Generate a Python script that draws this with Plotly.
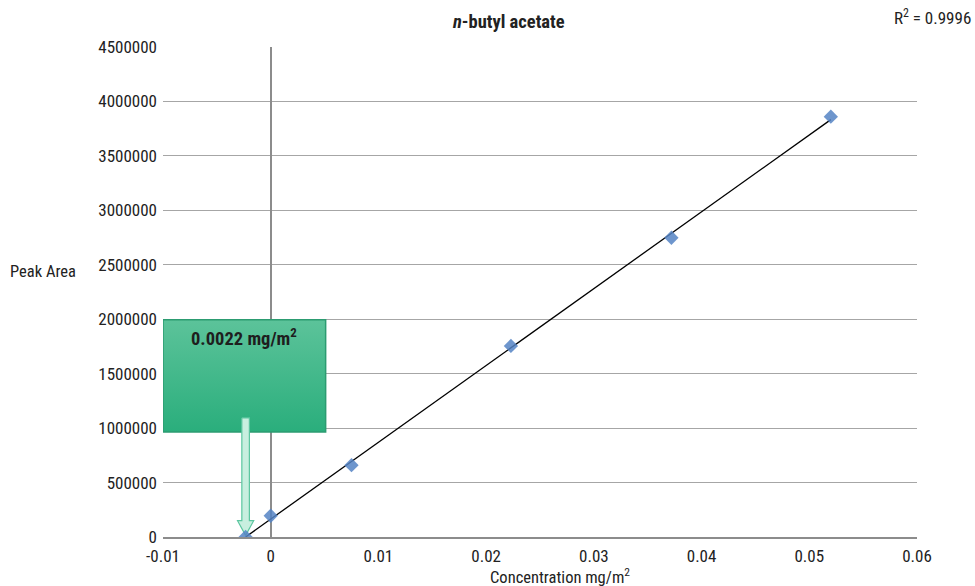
import numpy as np
import plotly.graph_objects as go

# ---- data ----
conc = [0.0, 0.0075, 0.0223, 0.0372, 0.0520]          # mg/m2
peak_area = [195000, 660000, 1755000, 2748000, 3860000]
lod_label = "0.0022 mg/m<sup>2</sup>"
r2_label = "R<sup>2</sup> = 0.9996"
x_tickvals = [-0.01, 0, 0.01, 0.02, 0.03, 0.04, 0.05, 0.06]
x_ticktext = ["-0.01", "0", "0.01", "0.02", "0.03", "0.04", "0.05", "0.06"]

FONT = "Liberation Sans Narrow, Roboto Condensed, Arial Narrow, Liberation Sans, sans-serif"

slope, intercept = np.polyfit(conc, peak_area, 1)
x_int = -intercept / slope
line_x = [x_int, max(conc)]
line_y = [slope * v + intercept for v in line_x]

fig = go.Figure()

# green callout box (gradient)
bx0, bx1, by0, by1 = -0.0100, 0.0051, 965000, 1995000
fig.add_trace(go.Scatter(
    x=[bx0, bx1, bx1, bx0, bx0], y=[by0, by0, by1, by1, by0],
    mode="lines", fill="toself",
    line=dict(color="#2c9c71", width=1.5),
    fillgradient=dict(type="vertical",
                      colorscale=[[0, "#2aae7c"], [1, "#5cc39a"]]),
    hoverinfo="skip", showlegend=False))

# arrow from box to x-intercept
ax = x_int
sw, hw = 0.00035, 0.00075
ytop, yneck, ytip = 1094000, 150000, 15000
fig.add_trace(go.Scatter(
    x=[ax - sw, ax + sw, ax + sw, ax + hw, ax, ax - hw, ax - sw, ax - sw],
    y=[ytop, ytop, yneck, yneck, ytip, yneck, yneck, ytop],
    mode="lines", fill="toself", fillcolor="#c8efdf",
    line=dict(color="#5cc6a0", width=1.2),
    hoverinfo="skip", showlegend=False))

# trend line
fig.add_trace(go.Scatter(x=line_x, y=line_y, mode="lines",
                         line=dict(color="black", width=1.3),
                         showlegend=False, hoverinfo="skip"))

# data points (including x-intercept marker)
fig.add_trace(go.Scatter(x=conc + [x_int], y=peak_area + [0], mode="markers",
                         marker=dict(symbol="diamond", size=11, color="#5584c4",
                                     opacity=0.85, line=dict(width=0)),
                         showlegend=False))

fig.update_layout(
    width=975, height=586,
    margin=dict(l=163, r=58, t=47, b=49),
    paper_bgcolor="white", plot_bgcolor="white",
    font=dict(family=FONT, size=17, color="#222"),
    showlegend=False,
    xaxis=dict(range=[-0.01, 0.06], tickvals=x_tickvals, ticktext=x_ticktext,
               showgrid=False, zeroline=True, zerolinecolor="#8c8c8c", zerolinewidth=1.5,
               showline=True, linecolor="#8c8c8c", linewidth=1.5,
               ticks="", tickfont=dict(size=17), ticklabelstandoff=3, fixedrange=True),
    yaxis=dict(range=[0, 4500000], dtick=500000, tickformat="d",
               showgrid=True, gridcolor="#a6a6a6", gridwidth=1.3,
               zeroline=False, showline=False,
               ticks="", ticklabelstandoff=5,
               tickfont=dict(size=17)),
    annotations=[
        dict(text="<b><i>n</i>-butyl acetate</b>", xref="paper", yref="paper",
             x=0.4576, y=1.051, showarrow=False, font=dict(size=18.5),
             xanchor="center", yanchor="middle"),
        dict(text=r2_label, xref="paper", yref="paper", x=1.074, y=1.061,
             showarrow=False, xanchor="right", yanchor="middle", font=dict(size=17)),
        dict(text="Peak Area", xref="paper", yref="paper", x=-0.159, y=0.541,
             showarrow=False, xanchor="center", yanchor="middle", font=dict(size=16.5)),
        dict(text="Concentration mg/m<sup>2</sup>", xref="paper", yref="paper",
             x=0.5265, y=-0.08, showarrow=False, xanchor="center", yanchor="middle",
             font=dict(size=16.5)),
        dict(text="<b>" + lod_label + "</b>", xref="x", yref="y",
             x=(bx0 + bx1) / 2, y=by1 - 160000, showarrow=False,
             xanchor="center", yanchor="middle", font=dict(size=18.5, color="#1e1e1e")),
    ],
)

fig.write_html("out.html")
